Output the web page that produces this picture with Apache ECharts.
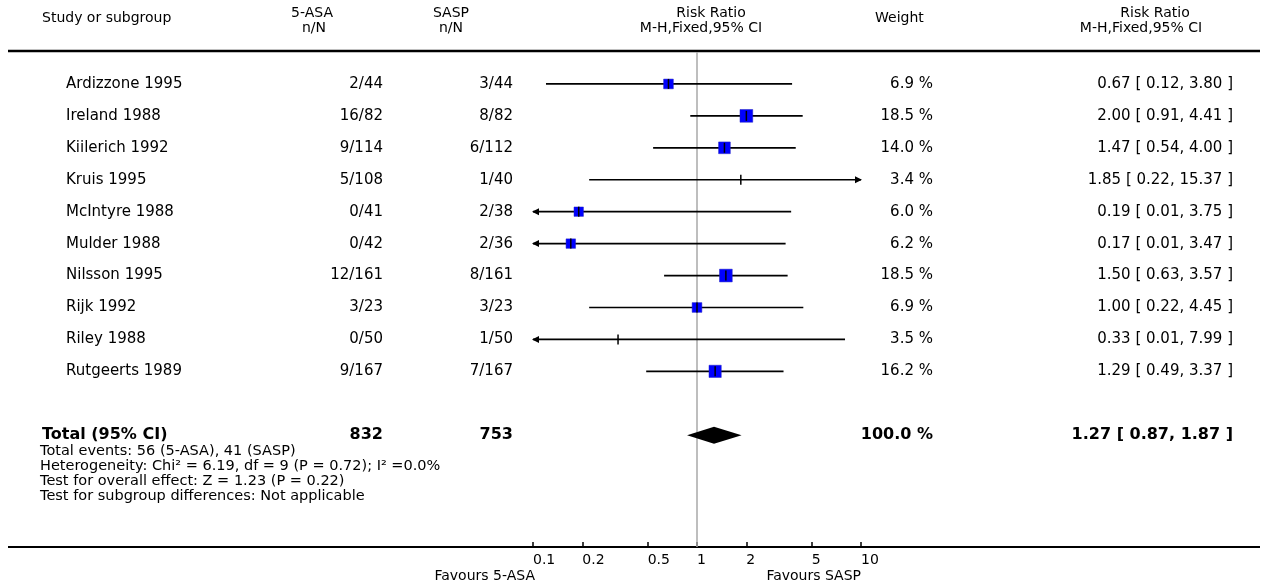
<!DOCTYPE html>
<html><head><meta charset="utf-8">
<script src="https://cdn.jsdelivr.net/npm/echarts@6/dist/echarts.min.js"></script>
<style>html,body{margin:0;padding:0;background:#fff}#c{width:1264px;height:585px}</style>
</head><body><div id="c"></div>
<script>
// ---- data ----
const studies = ['Ardizzone 1995','Ireland 1988','Kiilerich 1992','Kruis 1995','McIntyre 1988','Mulder 1988','Nilsson 1995','Rijk 1992','Riley 1988','Rutgeerts 1989'];
const asaEvents = [2,16,9,5,0,0,12,3,0,9];
const asaTotal  = [44,82,114,108,41,42,161,23,50,167];
const saspEvents = [3,8,6,1,2,2,8,3,1,7];
const saspTotal  = [44,82,112,40,38,36,161,23,50,167];
const weights = [6.9,18.5,14.0,3.4,6.0,6.2,18.5,6.9,3.5,16.2];
const rr = [0.67,2.00,1.47,1.85,0.19,0.17,1.50,1.00,0.33,1.29];
const rrLo = [0.12,0.91,0.54,0.22,0.01,0.01,0.63,0.22,0.01,0.49];
const rrHi = [3.80,4.41,4.00,15.37,3.75,3.47,3.57,4.45,7.99,3.37];
const totalLabel = 'Total (95% CI)';
const totalAsa = 832, totalSasp = 753, totalWeight = 100.0;
const totalRR = 1.27, totalLo = 0.87, totalHi = 1.87;
const tickValues = [0.1,0.2,0.5,1,2,5,10];
const footnotes = ['Total events: 56 (5-ASA), 41 (SASP)',
  'Heterogeneity: Chi\u00B2 = 6.19, df = 9 (P = 0.72); I\u00B2 =0.0%',
  'Test for overall effect: Z = 1.23 (P = 0.22)',
  'Test for subgroup differences: Not applicable'];
const favLeft = 'Favours 5-ASA', favRight = 'Favours SASP';

// ---- layout ----
const FF = '"DejaVu Sans", sans-serif';
const fRow = '15px ' + FF, fBold = 'bold 16px ' + FF, fHead = '14px ' + FF, fFoot = '14.5px ' + FF;
const X_NAME = 66, X_ASA = 383, X_SASP = 513, X_W = 933, X_CI = 1233;
const totalRow = studies.length + 1;
const L = Math.log10;
const fmtCI = (e,l,h) => e.toFixed(2) + ' [ ' + l.toFixed(2) + ', ' + h.toFixed(2) + ' ]';

const chart = echarts.init(document.getElementById('c'), null, {renderer:'canvas'});

function txt(x, y, text, align, font) {
  return {type:'text', style:{x:x, y:y, text:text, align:align, verticalAlign:'middle', font:font, fill:'#000'}};
}

const option = {
  animation: false,
  backgroundColor: '#fff',
  grid: {left: 533, right: 403, top: 52, bottom: 38},
  xAxis: {
    type: 'value', min: -1, max: 1,
    axisLine: {show: false, onZero: false},
    splitLine: {show: false},
    axisTick: {show: true, inside: true, length: 5, customValues: tickValues.map(L), lineStyle: {color:'#000', width: 1.5}},
    axisLabel: {customValues: tickValues.map(L), align: 'left', margin: 6, fontSize: 14, fontFamily: FF, color: '#000',
      formatter: v => String(Number(Math.pow(10, v).toPrecision(3)))}
  },
  yAxis: {type: 'value', inverse: true, min: -1, max: 14.5, show: false},
  graphic: [
    {type:'line', shape:{x1:8, y1:51, x2:1260, y2:51}, style:{stroke:'#000', lineWidth:2.5}, silent:true},
    {type:'line', shape:{x1:8, y1:547, x2:1260, y2:547}, style:{stroke:'#000', lineWidth:2}, silent:true},
    txt(42, 18, 'Study or subgroup', 'left', fHead),
    txt(312, 13, '5-ASA', 'center', fHead), txt(314, 28, 'n/N', 'center', fHead),
    txt(451, 13, 'SASP', 'center', fHead), txt(451, 28, 'n/N', 'center', fHead),
    txt(711, 13, 'Risk Ratio', 'center', fHead), txt(701, 28, 'M-H,Fixed,95% CI', 'center', fHead),
    txt(875, 18, 'Weight', 'left', fHead),
    txt(1155, 13, 'Risk Ratio', 'center', fHead), txt(1141, 28, 'M-H,Fixed,95% CI', 'center', fHead),
    txt(40, 451, footnotes[0], 'left', fFoot),
    txt(40, 466, footnotes[1], 'left', fFoot),
    txt(40, 481, footnotes[2], 'left', fFoot),
    txt(40, 496, footnotes[3], 'left', fFoot),
    txt(535, 576, favLeft, 'right', fHead),
    txt(861, 576, favRight, 'right', fHead)
  ],
  series: [
    {
      type: 'custom', name: 'text', clip: false, silent: true, z: 1,
      data: studies.map((s, i) => [0, i]),
      renderItem: function (params, api) {
        const i = params.dataIndex;
        const y = api.coord([0, i])[1];
        return {type:'group', children:[
          txt(X_NAME, y, studies[i], 'left', fRow),
          txt(X_ASA, y, asaEvents[i] + '/' + asaTotal[i], 'right', fRow),
          txt(X_SASP, y, saspEvents[i] + '/' + saspTotal[i], 'right', fRow),
          txt(X_W, y, weights[i].toFixed(1) + ' %', 'right', fRow),
          txt(X_CI, y, fmtCI(rr[i], rrLo[i], rrHi[i]), 'right', fRow)
        ]};
      },
      markLine: {
        silent: true, symbol: 'none', label: {show: false}, z: 1,
        lineStyle: {color: '#a8a8a8', width: 1.5, type: 'solid'},
        data: [{xAxis: 0}]
      }
    },
    {
      type: 'custom', name: 'forest', clip: false, silent: true, z: 3,
      data: studies.map((s, i) => [L(rr[i]), i, L(rrLo[i]), L(rrHi[i]), weights[i]]),
      renderItem: function (params, api) {
        const e = api.value(0), row = api.value(1), lo = api.value(2), hi = api.value(3), w = api.value(4);
        const y = api.coord([0, row])[1];
        const xmin = api.coord([-1, row])[0], xmax = api.coord([1, row])[0];
        const xlo = api.coord([Math.max(lo, -1), row])[0];
        const xhi = api.coord([Math.min(hi, 1), row])[0];
        const xe = api.coord([e, row])[0];
        const ch = [{type:'line', shape:{x1:xlo, y1:y, x2:xhi, y2:y}, style:{stroke:'#000', lineWidth:1.7}}];
        if (lo < -1) ch.push({type:'polygon', shape:{points:[[xmin-1,y],[xmin+6,y-3.5],[xmin+6,y+3.5]]}, style:{fill:'#000'}});
        if (hi > 1) ch.push({type:'polygon', shape:{points:[[xmax+1,y],[xmax-6,y-3.5],[xmax-6,y+3.5]]}, style:{fill:'#000'}});
        if (w >= 5) {
          const s = 1.8 * Math.sqrt(w) + 5;
          ch.push({type:'rect', shape:{x:xe - s/2, y:y - s/2, width:s, height:s}, style:{fill:'#0000ff', stroke:'#2020c0', lineWidth:0.5}});
        }
        ch.push({type:'line', shape:{x1:xe, y1:y-5, x2:xe, y2:y+5}, style:{stroke:'#000', lineWidth:1.5}});
        return {type:'group', children: ch};
      }
    },
    {
      type: 'custom', name: 'total', clip: false, silent: true, z: 4,
      data: [[L(totalRR), totalRow, L(totalLo), L(totalHi)]],
      renderItem: function (params, api) {
        const e = api.value(0), row = api.value(1), lo = api.value(2), hi = api.value(3);
        const y = api.coord([0, row])[1];
        const xe = api.coord([e, row])[0], xl = api.coord([lo, row])[0], xh = api.coord([hi, row])[0];
        return {type:'group', children:[
          {type:'polygon', shape:{points:[[xl,y],[xe,y-8.5],[xh,y],[xe,y+8.5]]}, style:{fill:'#000'}},
          txt(42, y, totalLabel, 'left', fBold),
          txt(X_ASA, y, String(totalAsa), 'right', fBold),
          txt(X_SASP, y, String(totalSasp), 'right', fBold),
          txt(X_W, y, totalWeight.toFixed(1) + ' %', 'right', fBold),
          txt(X_CI, y, fmtCI(totalRR, totalLo, totalHi), 'right', fBold)
        ]};
      }
    }
  ]
};
chart.setOption(option);
</script>
</body></html>
